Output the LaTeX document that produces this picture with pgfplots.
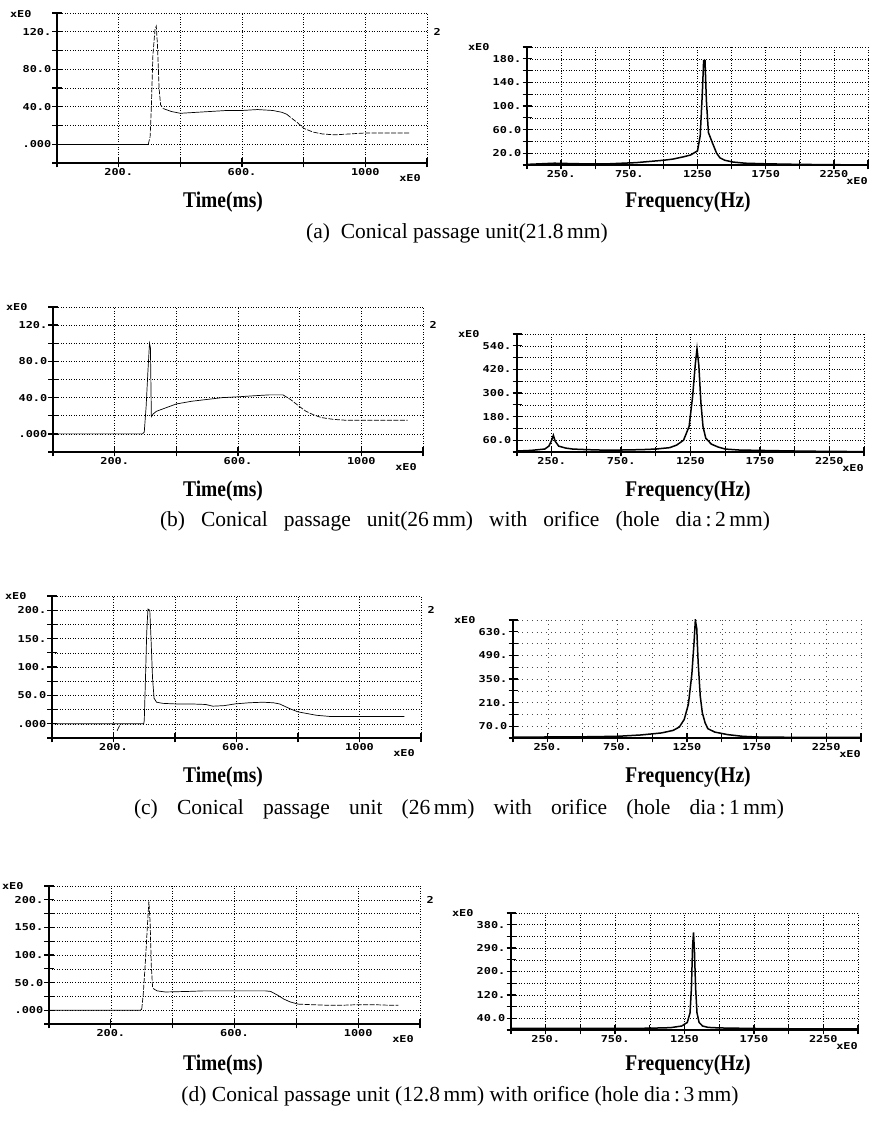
\documentclass[border=0pt]{standalone}
\usepackage{fontspec}
\usepackage{graphicx}
\newfontfamily\dotf{DejaVu Sans Mono Bold}[FakeStretch=1.25]
\newfontfamily\serf{Liberation Serif}
\usepackage{pgfplots}
\pgfplotsset{compat=1.18}

\newcommand{\dottxt}{\dotf\fontsize{9.5}{10}\selectfont}

\pgfplotsset{
  common/.style={
    scale only axis, anchor=south west, clip mode=individual,
    axis x line=bottom, axis y line=left,
    axis line style={-, line width=1.7pt},
    tick align=center, major tick length=9pt,
    tick style={black, line width=1.3pt},
    grid=major,
    grid style={black, line width=0.55pt, dash pattern=on 0.7pt off 1.9pt},
    ticklabel style={font=\dottxt, inner sep=1pt},
  },
  tpanel/.style={common, xmin=0, xmax=1200, xtick={0,200,...,1200},
    xticklabels={,200.,,600.,,1000,}},
  fpanel/.style={common, xmin=0, xmax=2500, xtick={0,250,...,2500},
    xticklabels={,250.,,750.,,1250,,1750,,2250,}},
  trace/.style={black, line width=0.7pt, no marks},
  gapped/.style={black, line width=0.7pt, no marks, dash pattern=on 5pt off 1.5pt},
  spec/.style={black, line width=1.5pt, no marks},
}
\newcommand{\lab}[1]{\scalebox{1}[1.15]{\serf\bfseries\fontsize{19.5}{21}\selectfont #1}}
\newcommand{\capf}{\serf\fontsize{21.5}{24}\selectfont}

\begin{document}
\begin{tikzpicture}
\useasboundingbox (0,0) rectangle (869pt,1124pt);

% ---------- (a) ----------
\begin{axis}[tpanel, at={(57pt,961pt)}, width=370pt, height=150pt,
  ymin=-20, ymax=140, ytick={-20,0,...,140},
  yticklabels={,.000,,40.0,,80.0,,120.,}]
\addplot[trace] coordinates {(0,0) (150,0) (296,0)};
\addplot[gapped] coordinates {(296,0) (302,8) (306,40) (311,95) (318,123) (322,126)
  (326,105) (331,60) (336,42) (345,38)};
\addplot[trace] coordinates {(345,38) (370,35) (400,33) (450,34) (500,35) (550,36)
  (600,36) (650,37) (700,36) (730,34) (745,32)};
\addplot[gapped] coordinates {(745,32) (760,28) (780,23) (800,17) (830,13) (860,11)
  (900,10) (950,11) (1000,12) (1050,12) (1100,12) (1145,12)};
\node[font=\dottxt, anchor=east] at (rel axis cs:0,1) [xshift=-22pt, yshift=-1pt] {xE0};
\node[font=\dottxt] at (rel axis cs:1,0) [xshift=-17pt, yshift=-15pt] {xE0};
\node[font=\dottxt, anchor=west] at (axis cs:1200,120) [xshift=3pt] {2};
\end{axis}

\begin{axis}[fpanel, at={(527pt,959pt)}, width=341pt, height=118pt,
  ymin=0, ymax=200, ytick={0,20,...,200},
  yticklabels={,20.0,,60.0,,100.,,140.,,180.,}]
\addplot[spec] coordinates {(0,1) (100,2) (200,3) (400,2) (600,2) (800,4) (900,6)
  (1000,8) (1070,10) (1150,14) (1200,17) (1250,24) (1270,50) (1285,120) (1295,177)
  (1305,177) (1315,110) (1330,55) (1360,37) (1390,20) (1415,12) (1450,8) (1510,5)
  (1600,3) (1750,2) (2000,1) (2500,0)};
\node[font=\dottxt, anchor=east] at (rel axis cs:0,1) [xshift=-34pt] {xE0};
\node[font=\dottxt] at (rel axis cs:1,0) [xshift=-11pt, yshift=-16pt] {xE0};
\end{axis}

\node at (223pt,922pt) {\lab{Time(ms)}};
\node at (688pt,922pt) {\lab{Frequency(Hz)}};
\node[font=\capf] at (457pt,891pt) {(a)~ Conical passage unit(21.8\,mm)};

% ---------- (b) ----------
\begin{axis}[tpanel, at={(53pt,672pt)}, width=370pt, height=145pt,
  ymin=-20, ymax=140, ytick={-20,0,...,140},
  yticklabels={,.000,,40.0,,80.0,,120.,}]
\addplot[trace] coordinates {(0,0) (150,0) (290,0) (296,2) (302,30) (308,70) (313,100)
  (316,95) (319,19) (325,22) (336,25) (360,28) (400,33) (450,36) (500,38) (550,40)
  (606,41) (650,42) (700,43) (746,43)};
\addplot[gapped] coordinates {(746,43) (770,38) (800,30) (820,25) (845,21) (870,18)
  (909,16) (950,15) (1000,15) (1050,15) (1100,15) (1150,15)};
\node[font=\dottxt, anchor=east] at (rel axis cs:0,1) [xshift=-22pt] {xE0};
\node[font=\dottxt] at (rel axis cs:1,0) [xshift=-17pt, yshift=-15pt] {xE0};
\node[font=\dottxt, anchor=west] at (axis cs:1200,120) [xshift=3pt] {2};
\end{axis}

\begin{axis}[fpanel, at={(517pt,672pt)}, width=347pt, height=118pt,
  ymin=0, ymax=600, ytick={0,60,...,600},
  yticklabels={,60.0,,180.,,300.,,420.,,540.,}]
\addplot[spec] coordinates {(0,5) (100,8) (200,15) (230,30) (250,60) (262,85)
  (275,55) (300,30) (350,20) (400,15) (500,12) (600,10) (750,10) (900,12) (1000,15)
  (1100,22) (1150,35) (1200,60) (1240,130) (1265,280) (1285,450) (1297,525)
  (1310,440) (1325,250) (1340,130) (1360,70) (1400,40) (1450,25) (1500,15) (1600,10)
  (1750,8) (2000,5) (2250,3) (2500,2)};
\node[font=\dottxt, anchor=east] at (rel axis cs:0,1) [xshift=-34pt] {xE0};
\node[font=\dottxt] at (rel axis cs:1,0) [xshift=-11pt, yshift=-16pt] {xE0};
\end{axis}

\node at (223pt,633pt) {\lab{Time(ms)}};
\node at (688pt,633pt) {\lab{Frequency(Hz)}};
\node[font=\capf] at (465pt,603pt)
  {\makebox[610pt][s]{(b) Conical passage unit(26\,mm) with orifice (hole dia\,:\,2\,mm)}};

% ---------- (c) ----------
\begin{axis}[tpanel, at={(52pt,386pt)}, width=369pt, height=142pt,
  ymin=-25, ymax=225, ytick={-25,0,...,225},
  yticklabels={,.000,,50.0,,100.,,150.,,200.,}]
\addplot[trace] coordinates {(0,0) (150,0) (298,0) (300,5) (304,80) (308,160) (312,202)
  (318,200) (322,150) (327,80) (332,45) (340,38) (360,36) (400,35) (450,35) (500,34)
  (523,31) (560,32) (595,35) (640,37) (686,38) (720,37) (740,35) (760,30) (776,26)
  (800,21) (830,18) (860,15) (902,13) (950,13) (1000,13) (1050,13) (1100,13) (1146,13)};
\addplot[trace] coordinates {(212,-12) (220,-3)};
\node[font=\dottxt, anchor=east] at (rel axis cs:0,1) [xshift=-22pt] {xE0};
\node[font=\dottxt] at (rel axis cs:1,0) [xshift=-17pt, yshift=-15pt] {xE0};
\node[font=\dottxt, anchor=west] at (axis cs:1200,200) [xshift=3pt] {2};
\end{axis}

\begin{axis}[fpanel, at={(513pt,386pt)}, width=348pt, height=118pt,
  ymin=0, ymax=700, ytick={0,70,...,700},
  yticklabels={,70.0,,210.,,350.,,490.,,630.,},
  grid style={black!70, line width=0.5pt, dash pattern=on 0.7pt off 4pt}]
\addplot[spec] coordinates {(0,5) (250,6) (500,7) (750,10) (920,18) (1067,30)
  (1150,45) (1195,65) (1230,110) (1260,200) (1285,380) (1300,560) (1310,700)
  (1320,650) (1330,450) (1345,250) (1360,150) (1380,90) (1400,55) (1450,35)
  (1542,20) (1650,10) (1750,6) (2000,4) (2500,3)};
\node[font=\dottxt, anchor=east] at (rel axis cs:0,1) [xshift=-34pt] {xE0};
\node[font=\dottxt] at (rel axis cs:1,0) [xshift=-11pt, yshift=-16pt] {xE0};
\end{axis}

\node at (223pt,347pt) {\lab{Time(ms)}};
\node at (688pt,347pt) {\lab{Frequency(Hz)}};
\node[font=\capf] at (459pt,315pt)
  {\makebox[650pt][s]{(c) Conical passage unit (26\,mm) with orifice (hole dia\,:\,1\,mm)}};

% ---------- (d) ----------
\begin{axis}[tpanel, at={(49pt,100pt)}, width=371pt, height=138pt,
  ymin=-25, ymax=225, ytick={-25,0,...,225},
  yticklabels={,.000,,50.0,,100.,,150.,,200.,}]
\addplot[trace] coordinates {(0,0) (150,0) (296,0) (300,2)};
\addplot[gapped] coordinates {(300,2) (305,30) (312,90) (318,150) (323,197)
  (327,160) (331,80) (335,42) (340,38)};
\addplot[trace] coordinates {(340,38) (350,35) (376,33) (450,34) (500,35) (591,35)
  (650,35) (700,35) (717,34) (740,27) (760,20) (780,15) (806,11)};
\addplot[gapped] coordinates {(806,11) (850,10) (900,9) (950,9) (1000,10) (1050,10)
  (1100,9) (1130,9)};
\node[font=\dottxt, anchor=east] at (rel axis cs:0,1) [xshift=-22pt] {xE0};
\node[font=\dottxt] at (rel axis cs:1,0) [xshift=-17pt, yshift=-15pt] {xE0};
\node[font=\dottxt, anchor=west] at (axis cs:1200,200) [xshift=3pt] {2};
\end{axis}

\begin{axis}[fpanel, at={(511pt,94pt)}, width=347pt, height=117pt,
  ymin=-2.5, ymax=422.5, ytick={-2.5,40,...,422.5},
  yticklabels={,40.0,,120.,,200.,,290.,,380.,}]
\addplot[spec] coordinates {(0,3) (250,3) (500,3) (750,3) (1000,4) (1150,6)
  (1230,12) (1270,25) (1290,60) (1300,150) (1308,300) (1315,352) (1322,280)
  (1330,150) (1340,60) (1355,25) (1380,12) (1420,7) (1500,5) (1750,3) (2000,2)
  (2500,2)};
\node[font=\dottxt, anchor=east] at (rel axis cs:0,1) [xshift=-34pt] {xE0};
\node[font=\dottxt] at (rel axis cs:1,0) [xshift=-11pt, yshift=-16pt] {xE0};
\end{axis}

\node at (223pt,59pt) {\lab{Time(ms)}};
\node at (688pt,59pt) {\lab{Frequency(Hz)}};
\node[font=\capf] at (460pt,28pt)
  {(d) Conical passage unit (12.8\,mm) with orifice (hole dia\,:\,3\,mm)};
\end{tikzpicture}
\end{document}
